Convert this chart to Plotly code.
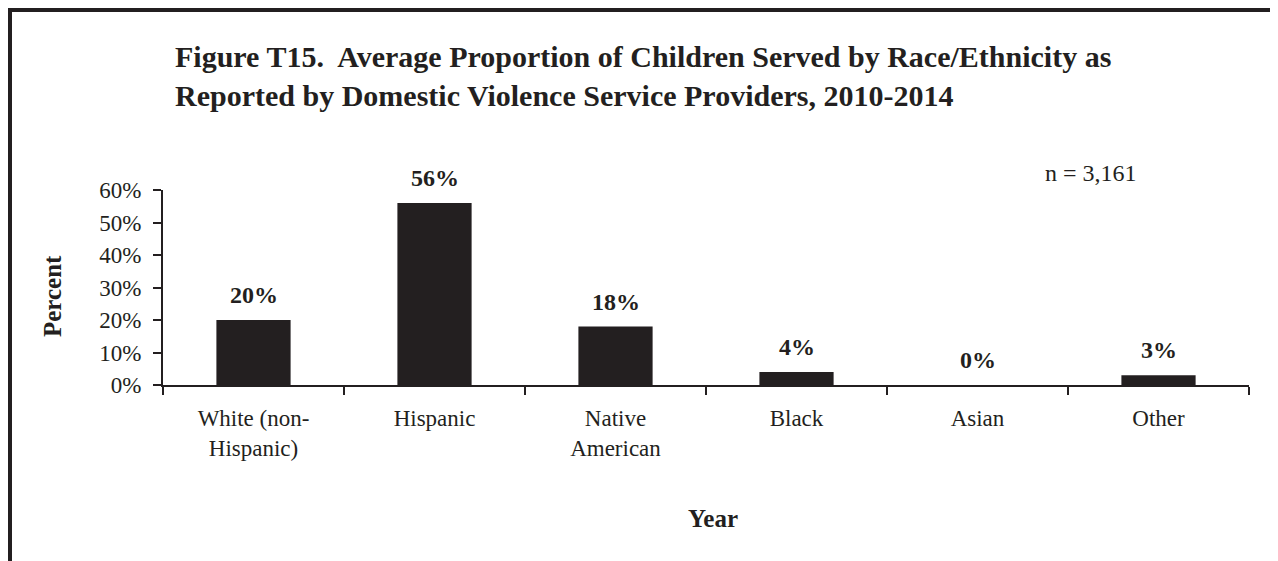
import plotly.graph_objects as go

categories = ["White (non-<br>Hispanic)", "Hispanic", "Native<br>American", "Black", "Asian", "Other"]
values = [0.20, 0.56, 0.18, 0.04, 0.00, 0.03]
labels = ["20%", "56%", "18%", "4%", "0%", "3%"]
tick_vals = [0, 0.1, 0.2, 0.3, 0.4, 0.5, 0.6]
tick_text = ["0%", "10%", "20%", "30%", "40%", "50%", "60%"]

W, H = 1278, 561
OFF = 8  # page offset of the figure
L, T = 163 - OFF, 190 - OFF
R = W - (1249 - OFF)
B = H - (385 - OFF)
pw, ph = W - L - R, H - T - B

def px2x(px):
    return (px - OFF - L) / pw

def py2y(py):
    return (H - B - (py - OFF)) / ph

dark = "#231f20"
serif = "Liberation Serif, Times New Roman, serif"

fig = go.Figure()
fig.add_trace(go.Bar(x=categories, y=values, marker=dict(color=dark, line=dict(width=0)),
                     width=0.41, showlegend=False, hoverinfo="skip"))

annotations = []
for c, v, t in zip(categories, values, labels):
    annotations.append(dict(x=c, y=v, xref="x", yref="y", text="<b>" + t + "</b>", showarrow=False,
                            yanchor="bottom", yshift=10, font=dict(family=serif, size=24, color=dark)))

annotations.append(dict(x=px2x(1043), y=py2y(173), xref="paper", yref="paper", text="n = 3,161",
                        showarrow=False, xanchor="left", yanchor="middle",
                        font=dict(family=serif, size=24, color=dark)))
annotations.append(dict(x=px2x(52), y=py2y(296), xref="paper", yref="paper", text="<b>Percent</b>",
                        textangle=-90, showarrow=False, xanchor="center", yanchor="middle",
                        font=dict(family=serif, size=25, color=dark)))
annotations.append(dict(x=px2x(713), y=py2y(518), xref="paper", yref="paper", text="<b>Year</b>",
                        showarrow=False, xanchor="center", yanchor="middle",
                        font=dict(family=serif, size=25, color=dark)))

shapes = [
    dict(type="line", xref="paper", yref="paper", x0=px2x(10), x1=px2x(10), y0=py2y(8), y1=py2y(600),
         line=dict(color=dark, width=4)),
    dict(type="line", xref="paper", yref="paper", x0=px2x(8), x1=px2x(1290), y0=py2y(10), y1=py2y(10),
         line=dict(color=dark, width=4)),
    dict(type="line", xref="paper", yref="paper", x0=px2x(1276.5), x1=px2x(1276.5), y0=py2y(10), y1=py2y(600),
         line=dict(color="#555555", width=1)),
]

fig.update_layout(
    width=W, height=H,
    margin=dict(l=L, r=R, t=T, b=B),
    paper_bgcolor="white", plot_bgcolor="white",
    title=dict(text="<b>Figure T15.  Average Proportion of Children Served by Race/Ethnicity as<br>"
                    "Reported by Domestic Violence Service Providers, 2010-2014</b>",
               x=167 / W, xanchor="left", xref="container",
               y=1 - 59 / H, yanchor="top", yref="container",
               font=dict(family=serif, size=30, color=dark)),
    xaxis=dict(type="category", showline=True, linecolor=dark, linewidth=2, ticks="outside",
               tickson="boundaries", ticklen=8, tickwidth=2, tickcolor=dark, showgrid=False,
               tickfont=dict(family=serif, size=23, color=dark), ticklabelstandoff=11),
    yaxis=dict(range=[0, 0.6], tickvals=tick_vals, ticktext=tick_text, showline=True, linecolor=dark,
               linewidth=2, ticks="outside", ticklen=8, tickwidth=2, tickcolor=dark, showgrid=False,
               zeroline=False, tickfont=dict(family=serif, size=23, color=dark), ticklabelstandoff=7),
    annotations=annotations,
    shapes=shapes,
    bargap=0.59,
)

fig.write_html("out.html")
